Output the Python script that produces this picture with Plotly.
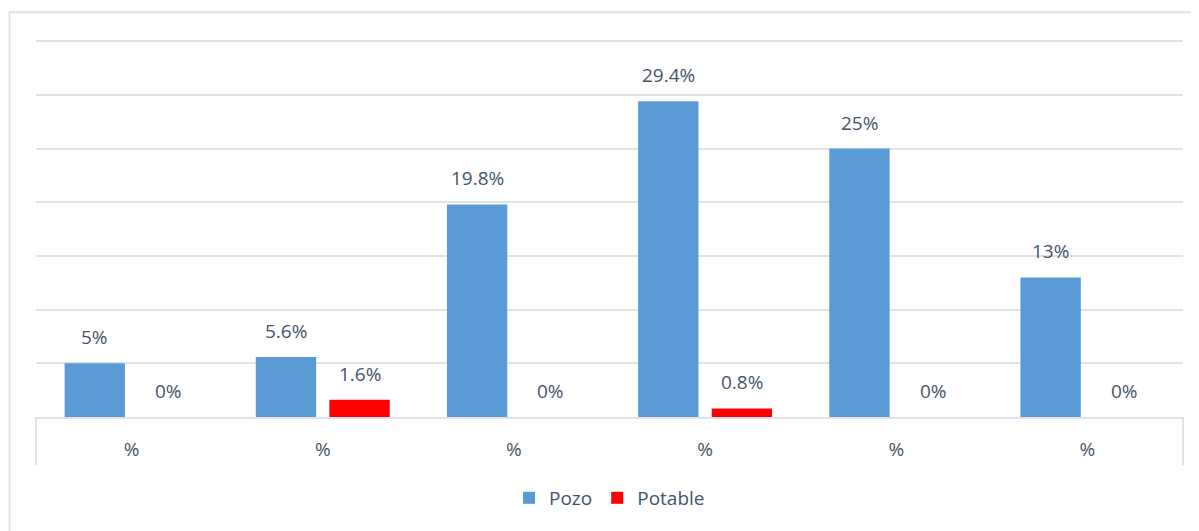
import plotly.graph_objects as go

categories = ["%", "%", "%", "%", "%", "%"]
pozo = [5, 5.6, 19.8, 29.4, 25, 13]
potable = [0, 1.6, 0, 0.8, 0, 0]
pozo_labels = ["5%", "5.6%", "19.8%", "29.4%", "25%", "13%"]
potable_labels = ["0%", "1.6%", "0%", "0.8%", "0%", "0%"]

x = list(range(len(categories)))
TXT = "#44546a"
GRID = "#dfe3e8"
FONT = "Open Sans"
FS = 19

BARGAP = 0.23
slot = (1 - BARGAP) / 2

fig = go.Figure()
fig.add_trace(go.Bar(x=x, y=pozo, name="Pozo", marker=dict(color="#5b9bd5", line=dict(width=0))))
fig.add_trace(go.Bar(x=x, y=potable, name="Potable", marker=dict(color="#ff0000", line=dict(width=0))))

ann = []
for i in x:
    ann.append(dict(x=i - slot / 2, y=pozo[i], text=pozo_labels[i], xref="x", yref="y",
                    showarrow=False, yanchor="bottom", yshift=11,
                    font=dict(size=FS, color=TXT, family=FONT)))
    ann.append(dict(x=i + slot / 2, y=potable[i], text=potable_labels[i], xref="x", yref="y",
                    showarrow=False, yanchor="bottom", yshift=11,
                    font=dict(size=FS, color=TXT, family=FONT)))

YMAX = 35.3
h = 376 * YMAX / 35  # plot-area height so that 35 sits at the reference's top gridline
bottom_px = 417
top_px = bottom_px - h

def py(px):
    return (bottom_px - px) / h

shapes = [
    # outer chart border
    dict(type="rect", xref="paper", yref="paper", x0=(9.5 - 36) / 1147, x1=1.03, y0=py(545), y1=py(12),
         line=dict(color=GRID, width=2), fillcolor="rgba(0,0,0,0)", layer="above"),
    # category axis box sides
    dict(type="line", xref="paper", yref="paper", x0=0, x1=0, y0=0, y1=py(465),
         line=dict(color=GRID, width=2)),
    dict(type="line", xref="paper", yref="paper", x0=1, x1=1, y0=0, y1=py(465),
         line=dict(color=GRID, width=2)),
]

fig.update_layout(
    width=1199, height=531,
    margin=dict(l=28, r=24, t=round(top_px) - 8, b=531 - bottom_px + 8),
    paper_bgcolor="white", plot_bgcolor="white",
    barmode="group", bargap=BARGAP, bargroupgap=0.18,
    font=dict(family=FONT, size=FS, color=TXT),
    showlegend=True,
    legend=dict(orientation="h", x=0.5, xanchor="center", y=py(498), yanchor="middle",
                font=dict(size=FS, color=TXT, family=FONT), itemwidth=30),
    annotations=ann,
    shapes=shapes,
    xaxis=dict(range=[-0.5, 5.5], tickmode="array", tickvals=x, ticktext=categories,
               showgrid=False, zeroline=False, showline=True, linecolor=GRID, linewidth=2,
               ticks="", ticklabelstandoff=14, tickfont=dict(size=FS, color=TXT, family=FONT)),
    yaxis=dict(range=[0, YMAX], tickmode="array", tickvals=[5, 10, 15, 20, 25, 30, 35],
               showgrid=True, gridcolor=GRID, gridwidth=2,
               showticklabels=False, zeroline=False, ticks=""),
)

fig.write_html("out.html")
